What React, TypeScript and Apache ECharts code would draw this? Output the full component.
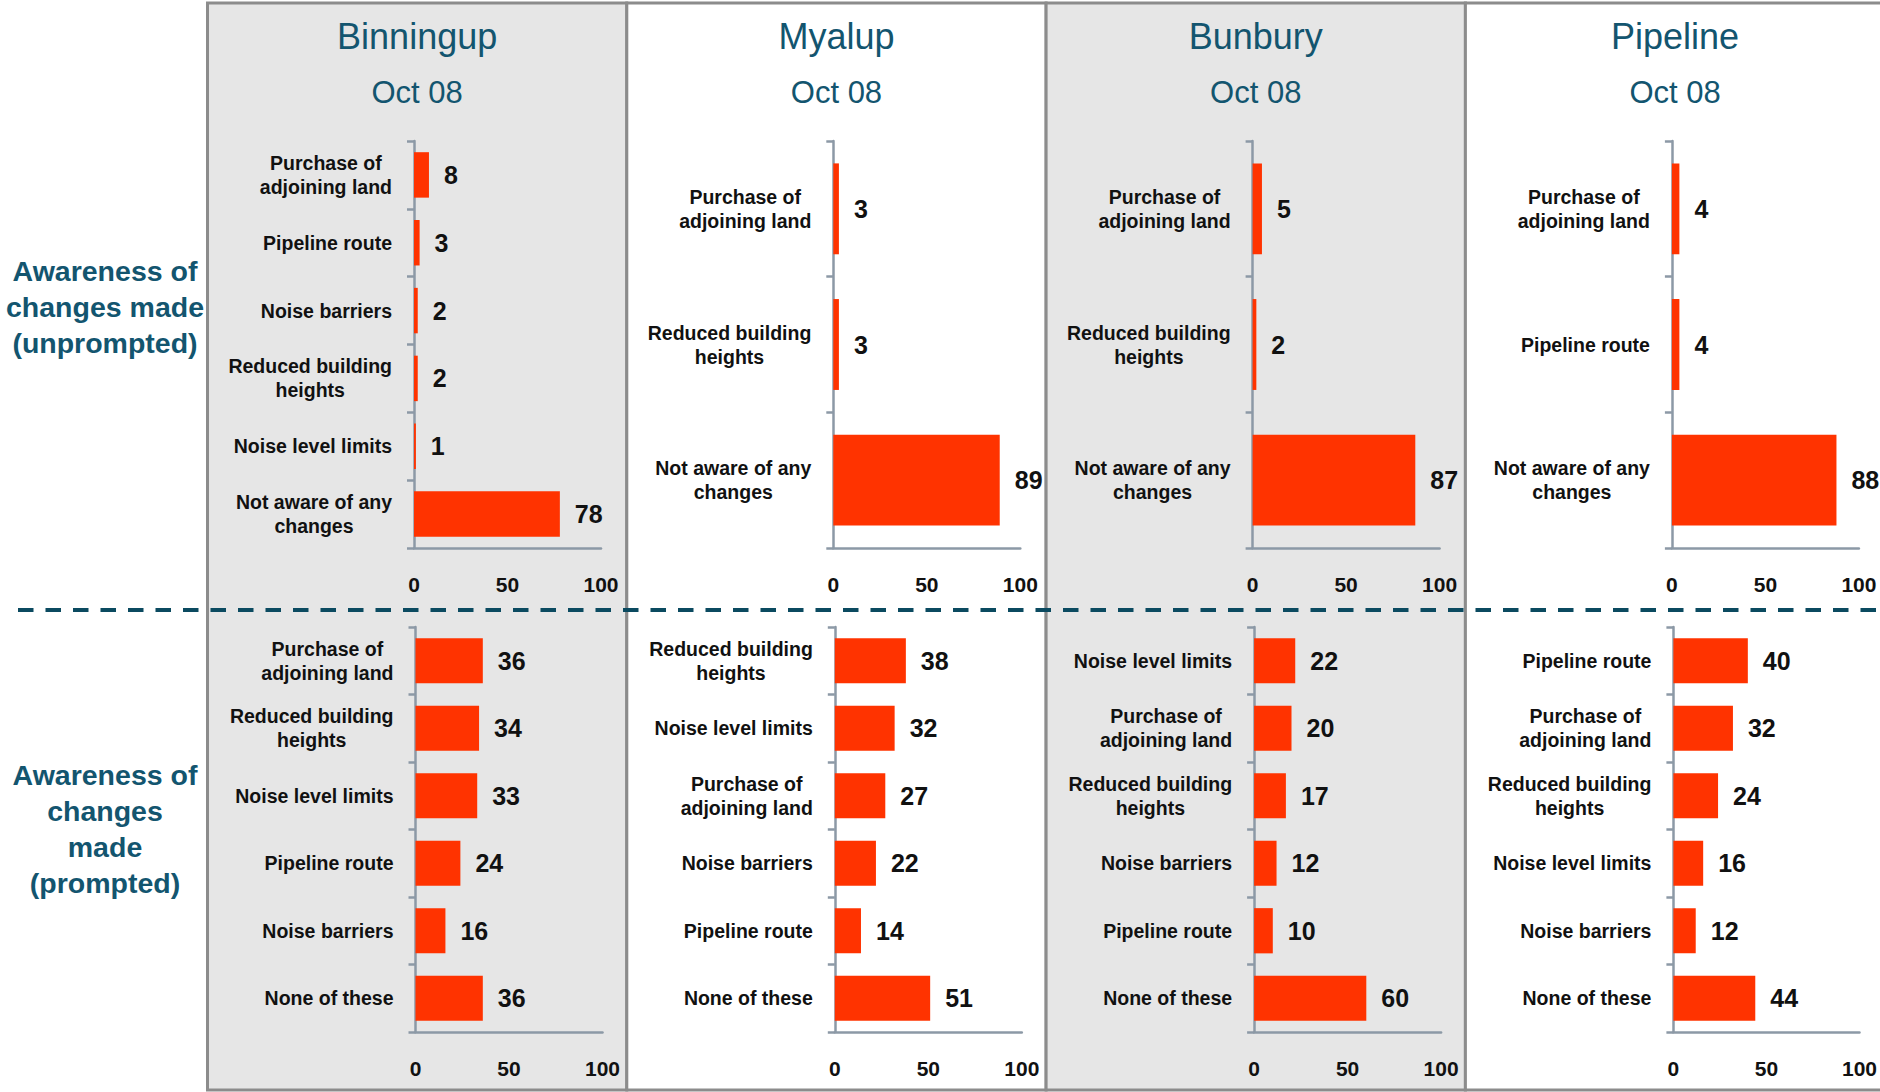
import React, { useEffect, useRef } from 'react';
import * as echarts from 'echarts';

const panelNames = ['Binningup', 'Myalup', 'Bunbury', 'Pipeline'];
const periodLabel = 'Oct 08';
const rowLabels = ['Awareness of\nchanges made\n(unprompted)', 'Awareness of\nchanges\nmade\n(prompted)'];

// Unprompted awareness
const binningupUnpromptedCats = ['Purchase of\nadjoining land', 'Pipeline route', 'Noise barriers', 'Reduced building\nheights', 'Noise level limits', 'Not aware of any\nchanges'];
const binningupUnpromptedVals = [8, 3, 2, 2, 1, 78];
const myalupUnpromptedCats = ['Purchase of\nadjoining land', 'Reduced building\nheights', 'Not aware of any\nchanges'];
const myalupUnpromptedVals = [3, 3, 89];
const bunburyUnpromptedCats = ['Purchase of\nadjoining land', 'Reduced building\nheights', 'Not aware of any\nchanges'];
const bunburyUnpromptedVals = [5, 2, 87];
const pipelineUnpromptedCats = ['Purchase of\nadjoining land', 'Pipeline route', 'Not aware of any\nchanges'];
const pipelineUnpromptedVals = [4, 4, 88];

// Prompted awareness
const binningupPromptedCats = ['Purchase of\nadjoining land', 'Reduced building\nheights', 'Noise level limits', 'Pipeline route', 'Noise barriers', 'None of these'];
const binningupPromptedVals = [36, 34, 33, 24, 16, 36];
const myalupPromptedCats = ['Reduced building\nheights', 'Noise level limits', 'Purchase of\nadjoining land', 'Noise barriers', 'Pipeline route', 'None of these'];
const myalupPromptedVals = [38, 32, 27, 22, 14, 51];
const bunburyPromptedCats = ['Noise level limits', 'Purchase of\nadjoining land', 'Reduced building\nheights', 'Noise barriers', 'Pipeline route', 'None of these'];
const bunburyPromptedVals = [22, 20, 17, 12, 10, 60];
const pipelinePromptedCats = ['Pipeline route', 'Purchase of\nadjoining land', 'Reduced building\nheights', 'Noise level limits', 'Noise barriers', 'None of these'];
const pipelinePromptedVals = [40, 32, 24, 16, 12, 44];

const xMin = 0;
const xMax = 100;
const xInterval = 50;

const W = 1880;
const H = 1092;
const PANEL_X0 = 207.5;
const PANEL_W = 419.3;

const SANS = "'Liberation Sans', Arial, sans-serif";
const TEAL = '#13556f';
const AXIS = '#8c99a6';
const BAR = '#ff3300';

export default function App() {
  const ref = useRef<HTMLDivElement>(null);

  useEffect(() => {
    const chart = echarts.init(ref.current as HTMLDivElement, null, { renderer: 'svg', width: W, height: H });

    const rows = [
      [
        [binningupUnpromptedCats, binningupUnpromptedVals],
        [myalupUnpromptedCats, myalupUnpromptedVals],
        [bunburyUnpromptedCats, bunburyUnpromptedVals],
        [pipelineUnpromptedCats, pipelineUnpromptedVals],
      ],
      [
        [binningupPromptedCats, binningupPromptedVals],
        [myalupPromptedCats, myalupPromptedVals],
        [bunburyPromptedCats, bunburyPromptedVals],
        [pipelinePromptedCats, pipelinePromptedVals],
      ],
    ];

    const grids: any[] = [];
    const xAxes: any[] = [];
    const yAxes: any[] = [];
    const series: any[] = [];

    rows.forEach((row, r) => {
      row.forEach(([cats, vals], p) => {
        const idx = grids.length;
        grids.push({
          left: PANEL_X0 + PANEL_W * p + (r === 0 ? 206.5 : 208),
          top: r === 0 ? 141 : 627,
          width: 187,
          height: r === 0 ? 407 : 405,
        });
        xAxes.push({
          gridIndex: idx,
          type: 'value',
          min: xMin,
          max: xMax,
          interval: xInterval,
          axisLine: { show: true, lineStyle: { color: AXIS, width: 2.5 } },
          axisTick: { show: false },
          splitLine: { show: false },
          axisLabel: {
            margin: 26,
            color: '#111',
            fontFamily: SANS,
            fontWeight: 'bold',
            fontSize: 21,
          },
        });
        yAxes.push({
          gridIndex: idx,
          type: 'category',
          inverse: true,
          data: cats,
          axisLine: { show: true, lineStyle: { color: AXIS, width: 2.5 } },
          axisTick: { show: true, length: 7, lineStyle: { color: AXIS, width: 2.5 } },
          axisLabel: {
            margin: 22,
            interval: 0,
            formatter: (v: string) => v.split('\n').map((l) => `{c|${l}}`).join('\n'),
            rich: {
              c: {
                align: 'center',
                color: '#111',
                fontFamily: SANS,
                fontWeight: 'bold',
                fontSize: 19.5,
                lineHeight: 24,
              },
            },
          },
        });
        series.push({
          type: 'bar',
          xAxisIndex: idx,
          yAxisIndex: idx,
          data: vals,
          barCategoryGap: '33%',
          itemStyle: { color: BAR },
          label: {
            show: true,
            position: 'right',
            distance: 15,
            color: '#111',
            fontFamily: SANS,
            fontWeight: 'bold',
            fontSize: 25,
          },
        });
      });
    });

    const graphics: any[] = [];
    panelNames.forEach((name, p) => {
      const x = PANEL_X0 + PANEL_W * p;
      graphics.push({
        type: 'rect',
        z: -10,
        shape: { x, y: 3, width: PANEL_W, height: 1087 },
        style: { fill: p % 2 === 0 ? '#e6e6e6' : '#ffffff', stroke: '#8c8c8c', lineWidth: 3 },
      });
      graphics.push({
        type: 'text',
        x: x + PANEL_W / 2,
        y: 36,
        style: {
          text: name,
          fill: TEAL,
          font: `36px ${SANS}`,
          textAlign: 'center',
          textVerticalAlign: 'middle',
        },
      });
      graphics.push({
        type: 'text',
        x: x + PANEL_W / 2,
        y: 92,
        style: {
          text: periodLabel,
          fill: TEAL,
          font: `31px ${SANS}`,
          textAlign: 'center',
          textVerticalAlign: 'middle',
        },
      });
    });
    graphics.push({
      type: 'text',
      x: 105,
      y: 307,
      style: {
        text: rowLabels[0],
        fill: TEAL,
        font: `bold 28.5px ${SANS}`,
        lineHeight: 36,
        textAlign: 'center',
        textVerticalAlign: 'middle',
      },
    });
    graphics.push({
      type: 'text',
      x: 105,
      y: 829,
      style: {
        text: rowLabels[1],
        fill: TEAL,
        font: `bold 28.5px ${SANS}`,
        lineHeight: 36,
        textAlign: 'center',
        textVerticalAlign: 'middle',
      },
    });
    graphics.push({
      type: 'line',
      z: 100,
      shape: { x1: 18, y1: 610, x2: W, y2: 610 },
      style: { stroke: '#0b4a60', lineWidth: 4, lineDash: [15.5, 12] },
    });

    chart.setOption({
      animation: false,
      backgroundColor: '#ffffff',
      grid: grids,
      xAxis: xAxes,
      yAxis: yAxes,
      series,
      graphic: graphics,
    });

    return () => chart.dispose();
  }, []);

  return (
    <div
      ref={ref}
      style={{ position: 'fixed', left: 0, top: 0, width: W, height: H }}
    />
  );
}
